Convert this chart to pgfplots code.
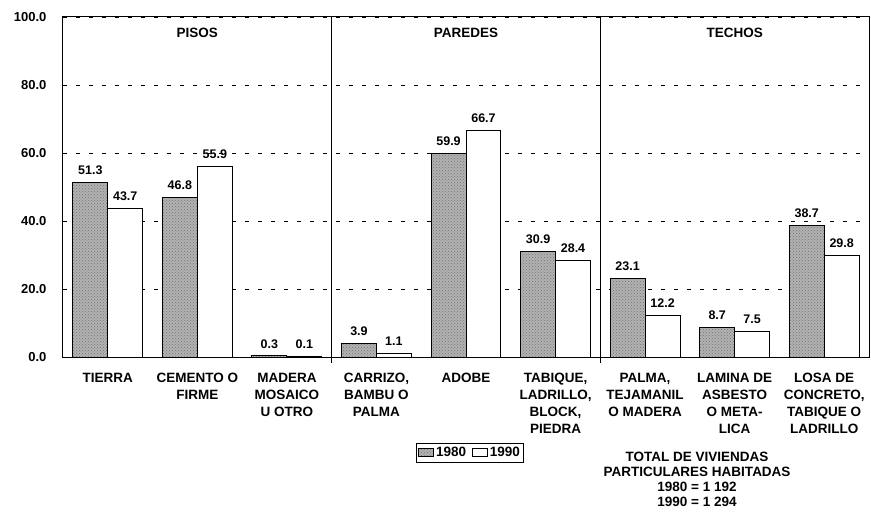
\documentclass[border=0pt]{standalone}
\usepackage{pgfplots}
\pgfplotsset{compat=1.18}
\usepackage{fontspec}
\setmainfont{Liberation Sans}
\usetikzlibrary{patterns}

\begin{document}
\begin{tikzpicture}
\begin{axis}[
    scale only axis,
    width=806pt, height=340pt,
    xmin=-0.5, xmax=8.5,
    ymin=0, ymax=100,
    ybar=0pt, bar width=0.39,
    axis line style={line width=1pt},
    /pgf/number format/assume math mode=true,
    xtick pos=bottom,
    xtick={0,...,8},
    xticklabels={TIERRA, {CEMENTO O\\FIRME}, {MADERA\\MOSAICO\\U OTRO},
        {CARRIZO,\\BAMBU O\\PALMA}, ADOBE, {TABIQUE,\\LADRILLO,\\BLOCK,\\PIEDRA},
        {PALMA,\\TEJAMANIL\\O MADERA}, {LAMINA DE\\ASBESTO\\O META-\\LICA},
        {LOSA DE\\CONCRETO,\\TABIQUE O\\LADRILLO}},
    xticklabel style={align=center, yshift=-13pt,
        font=\bfseries\fontsize{13.5}{17}\selectfont},
    ytick={0,20,...,100},
    yticklabel style={xshift=-13pt, font=\bfseries\fontsize{13}{15}\selectfont,
        /pgf/number format/.cd, fixed, fixed zerofill, precision=1},
    major tick length=0pt,
    ymajorgrids,
    y grid style={black, line width=0.8pt, dash pattern=on 4pt off 9pt},
    x grid style={black, line width=1pt, solid},
    extra x ticks={2.5,5.5},
    extra x tick labels={},
    extra x tick style={grid=major, major tick length=6pt, tick align=outside,
        tick style={black, line width=1pt}},
    nodes near coords,
    nodes near coords style={font=\bfseries\fontsize{12.5}{14}\selectfont, yshift=4pt,
        /pgf/number format/.cd, fixed, fixed zerofill, precision=1},
    legend columns=2,
    legend style={at={(rel axis cs:0.505,-0.282)}, anchor=center,
        draw=black, line width=0.8pt, inner sep=2pt,
        font=\bfseries\fontsize{13.5}{15}\selectfont,
        /tikz/every even column/.append style={column sep=4pt}},
    legend image code/.code={\draw[#1, line width=0.8pt] (0pt,-4pt) rectangle (15pt,4pt);},
    clip=false,
]
\addplot[draw=black, line width=1pt, fill=gray!60,
    postaction={pattern=crosshatch dots, pattern color=black!55}]
    coordinates {(0,51.3) (1,46.8) (2,0.3) (3,3.9) (4,59.9) (5,30.9) (6,23.1) (7,8.7) (8,38.7)};
\addplot[draw=black, line width=1pt, fill=white]
    coordinates {(0,43.7) (1,55.9) (2,0.1) (3,1.1) (4,66.7) (5,28.4) (6,12.2) (7,7.5) (8,29.8)};
\legend{1980, 1990}

\node[font=\bfseries\fontsize{13.5}{15}\selectfont] at (axis cs:1,95.3) {PISOS};
\node[font=\bfseries\fontsize{13.5}{15}\selectfont] at (axis cs:4,95.3) {PAREDES};
\node[font=\bfseries\fontsize{13.5}{15}\selectfont] at (axis cs:7,95.3) {TECHOS};
\node[anchor=north, align=center, font=\bfseries\fontsize{13.5}{15}\selectfont]
    at (rel axis cs:0.7866,-0.270)
    {TOTAL DE VIVIENDAS\\PARTICULARES HABITADAS\\1980 = 1 192\\1990 = 1 294};
\end{axis}
\pgfresetboundingbox
\useasboundingbox (-63pt,-157pt) rectangle (808pt,357pt);
\end{tikzpicture}
\end{document}
